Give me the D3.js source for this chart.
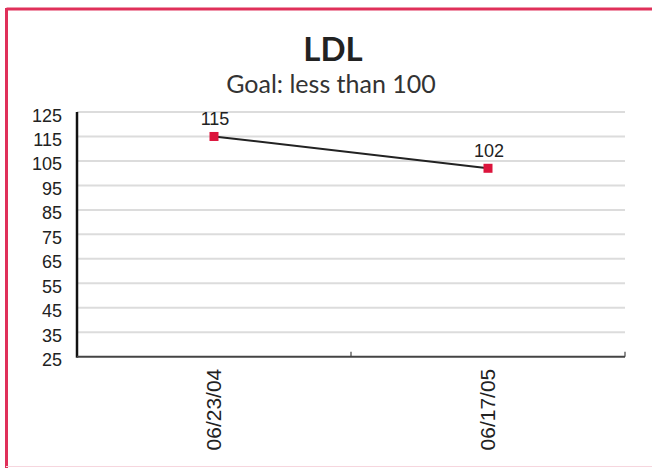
<!DOCTYPE html>
<html><head><meta charset="utf-8">
<script src="https://cdn.jsdelivr.net/npm/d3@7"></script>
<style>html,body{margin:0;padding:0;background:#fff}</style>
</head><body>
<svg id="c" width="652" height="468"></svg>
<script>
const titleText = "LDL";
const subtitleText = "Goal: less than 100";
const categories = ["06/23/04", "06/17/05"];
const values = [115, 102];
const yTicks = [25, 35, 45, 55, 65, 75, 85, 95, 105, 115, 125];

(function () {
const svg = d3.select("#c");
const pLeft = 77, pRight = 625, pTop = 112, pBottom = 356.7;

// frame
svg.append("line").attr("x1", 6.5).attr("x2", 652).attr("y1", 9).attr("y2", 9)
  .attr("stroke", "#e0305a").attr("stroke-width", 3);
svg.append("line").attr("x1", 6.5).attr("x2", 6.5).attr("y1", 8).attr("y2", 468)
  .attr("stroke", "#e0305a").attr("stroke-width", 3);
svg.append("line").attr("x1", 6).attr("x2", 652).attr("y1", 466.5).attr("y2", 466.5)
  .attr("stroke", "#f6d6de").attr("stroke-width", 1);

svg.append("text").attr("x", 333).attr("y", 61).attr("text-anchor", "middle")
  .attr("font-family", "Lato, 'Open Sans', sans-serif").attr("font-weight", "bold")
  .attr("font-size", 33).attr("fill", "#222").text(titleText);
svg.append("text").attr("x", 331).attr("y", 93).attr("text-anchor", "middle")
  .attr("font-family", "Lato, 'Open Sans', sans-serif")
  .attr("font-size", 25).attr("fill", "#333").text(subtitleText);

const y = d3.scaleLinear().domain([25, 125]).range([pBottom, pTop]);
const x = d3.scaleBand().domain(categories).range([pLeft, pRight]).paddingInner(0).paddingOuter(0);

// gridlines
svg.append("g").selectAll("line").data(yTicks.filter(d => d > 25)).join("line")
  .attr("x1", pLeft).attr("x2", pRight)
  .attr("y1", d => y(d)).attr("y2", d => y(d))
  .attr("stroke", "#dcdcdc").attr("stroke-width", 2);

// y axis
const yAxis = svg.append("g").attr("transform", `translate(${pLeft},0)`)
  .call(d3.axisLeft(y).tickValues(yTicks).tickSize(0).tickPadding(15));
yAxis.select(".domain").attr("stroke", "#111").attr("stroke-width", 2.5)
  .attr("d", `M0,${pTop}V${pBottom + 1}`);
yAxis.selectAll("text").attr("font-family", "'Liberation Sans', Arial, sans-serif")
  .attr("font-size", 18).attr("fill", "#222").attr("dy", "0.5em");

// x axis
const xAxis = svg.append("g").attr("transform", `translate(0,${pBottom})`)
  .call(d3.axisBottom(x).tickSize(0).tickPadding(12));
xAxis.select(".domain").attr("stroke", "#444").attr("stroke-width", 2)
  .attr("d", `M${pLeft},0H${pRight}`);
xAxis.selectAll("text")
  .attr("font-family", "'Liberation Sans', Arial, sans-serif")
  .attr("font-size", 21).attr("fill", "#222")
  .attr("text-anchor", "end")
  .attr("transform", "rotate(-90)")
  .attr("x", -12).attr("y", 0).attr("dy", "0.35em");
// boundary ticks
svg.append("g").selectAll("line").data(categories).join("line")
  .attr("x1", d => x(d) + x.bandwidth()).attr("x2", d => x(d) + x.bandwidth())
  .attr("y1", pBottom - 5).attr("y2", pBottom)
  .attr("stroke", "#444").attr("stroke-width", 1.2);

// line
const line = d3.line().x((d, i) => x(categories[i]) + x.bandwidth() / 2).y(d => y(d));
svg.append("path").datum(values).attr("d", line)
  .attr("fill", "none").attr("stroke", "#222").attr("stroke-width", 2);

// markers
svg.append("g").selectAll("rect").data(values).join("rect")
  .attr("x", (d, i) => x(categories[i]) + x.bandwidth() / 2 - 4.5)
  .attr("y", d => y(d) - 4.5).attr("width", 9).attr("height", 9)
  .attr("fill", "#dc143c");

// labels
svg.append("g").selectAll("text").data(values).join("text")
  .attr("x", (d, i) => x(categories[i]) + x.bandwidth() / 2 + 1)
  .attr("y", d => y(d) - 11.5).attr("text-anchor", "middle")
  .attr("font-family", "'Liberation Sans', Arial, sans-serif")
  .attr("font-size", 18).attr("fill", "#222").text(d => d);
})();
</script>
</body></html>
